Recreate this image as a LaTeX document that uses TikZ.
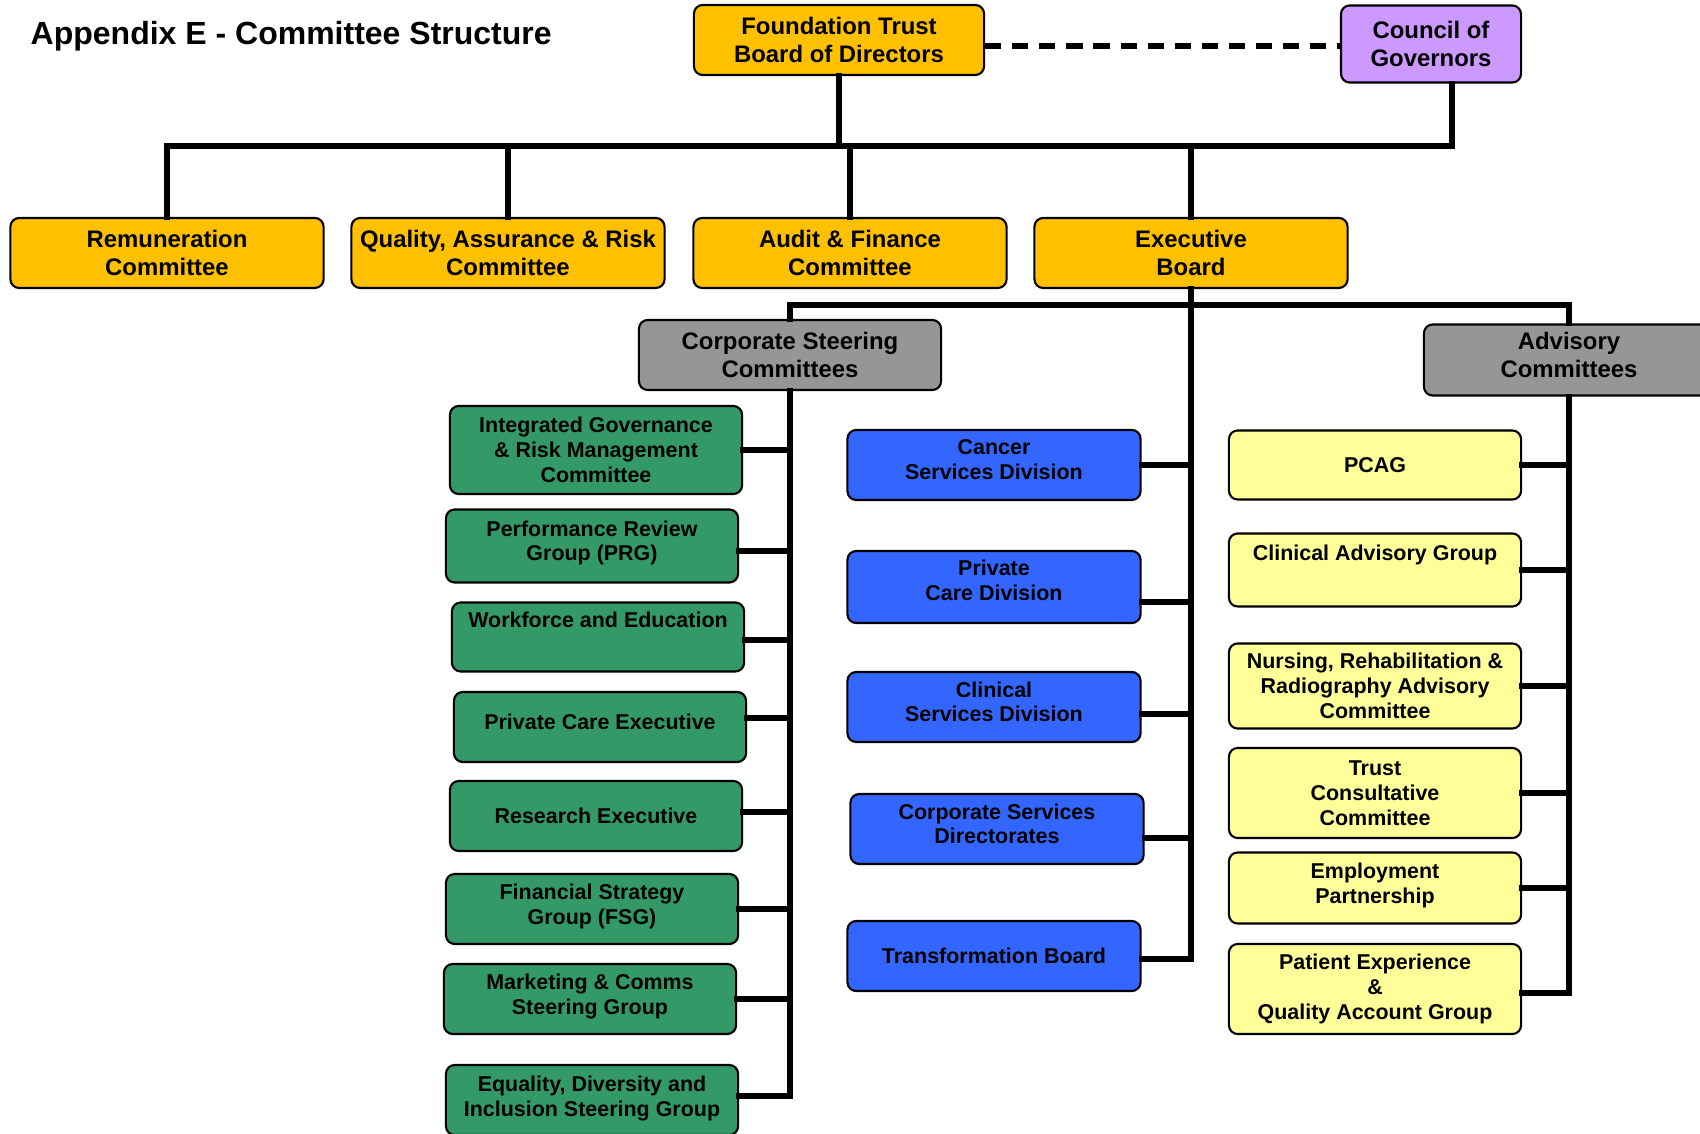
\documentclass[tikz,border=0pt]{standalone}
\usepackage{fontspec}
\setmainfont{Liberation Sans}
\definecolor{boardorange}{HTML}{FFC000}
\definecolor{govpurple}{HTML}{CC99FF}
\definecolor{headgrey}{HTML}{969696}
\definecolor{steergreen}{HTML}{339966}
\definecolor{divblue}{HTML}{3366FF}
\definecolor{advyellow}{HTML}{FFFF99}
\begin{document}
\begin{tikzpicture}[x=0.01cm,y=-0.01cm,
  box/.style={draw,rectangle,rounded corners=2.5pt,semithick,align=center,inner sep=0pt,font=\bfseries\fontsize{6.1}{7.1}\selectfont,minimum width=2.92cm,minimum height=0.7cm},
  topbox/.style={box,fill=boardorange,font=\bfseries\fontsize{6.8}{8}\selectfont,minimum width=3.13cm},
  headbox/.style={topbox,fill=headgrey},
  greenbox/.style={box,fill=steergreen},
  bluebox/.style={box,fill=divblue,minimum width=2.93cm},
  yellowbox/.style={box,fill=advyellow},
  link/.style={line width=1.7pt,line cap=rect}]
\useasboundingbox (0,0) rectangle (1700,1134);

\node[anchor=base west,inner sep=0pt,font=\bfseries\fontsize{9.1}{11}\selectfont] (title) at (30,45) {Appendix E - Committee Structure};

\node[topbox,minimum width=2.9cm] (fb) at (839,40) {Foundation Trust\\Board of Directors};
\node[topbox,fill=govpurple,minimum width=1.8cm,minimum height=0.77cm] (cg) at (1431,44) {Council of\\Governors};
\node[topbox] (rc) at (167,253) {Remuneration\\Committee};
\node[topbox] (qa) at (508,253) {Quality, Assurance \& Risk\\Committee};
\node[topbox] (af) at (850,253) {Audit \& Finance\\Committee};
\node[topbox] (eb) at (1191,253) {Executive\\Board};
\node[headbox,minimum width=3.02cm] (cs) at (790,355) {Corporate Steering\\Committees};
\node[headbox,minimum width=2.9cm,minimum height=0.71cm] (ac) at (1569,360) {Advisory\\Committees\\[-5pt]~};

\node[greenbox,minimum height=0.88cm] (g1) at (596,450) {Integrated Governance\\\& Risk Management\\Committee};
\node[greenbox,minimum height=0.73cm] (g2) at (592,546) {Performance Review\\Group (PRG)\\[-4.1pt]~};
\node[greenbox,minimum height=0.69cm] (g3) at (598,637) {Workforce and Education\\[2.5pt]~};
\node[greenbox] (g4) at (600,727) {Private Care Executive\\[-4.1pt]~};
\node[greenbox] (g5) at (596,816) {Research Executive};
\node[greenbox] (g6) at (592,909) {Financial Strategy\\Group (FSG)\\[-4.6pt]~};
\node[greenbox] (g7) at (590,999) {Marketing \& Comms\\Steering Group\\[-4.6pt]~};
\node[greenbox] (g8) at (592,1100) {Equality, Diversity and\\Inclusion Steering Group\\[-5pt]~};

\node[bluebox] (b1) at (994,465) {Cancer\\Services Division\\[-4.1pt]~};
\node[bluebox,minimum height=0.72cm] (b2) at (994,587) {Private\\Care Division\\[-3.5pt]~};
\node[bluebox] (b3) at (994,707) {Clinical\\Services Division\\[-4.1pt]~};
\node[bluebox] (b4) at (997,829) {Corporate Services\\Directorates\\[-4.1pt]~};
\node[bluebox] (b5) at (994,956) {Transformation Board};

\node[yellowbox,minimum height=0.69cm] (y1) at (1375,465) {PCAG};
\node[yellowbox,minimum height=0.73cm] (y2) at (1375,570) {Clinical Advisory Group\\[2.5pt]~};
\node[yellowbox,minimum height=0.85cm] (y3) at (1375,686) {Nursing, Rehabilitation \&\\Radiography Advisory\\Committee};
\node[yellowbox,minimum height=0.9cm] (y4) at (1375,793) {Trust\\Consultative\\Committee};
\node[yellowbox,minimum height=0.71cm] (y5) at (1375,888) {Employment\\Partnership\\[-4.6pt]~};
\node[yellowbox,minimum height=0.9cm] (y6) at (1375,989) {Patient Experience\\\&\\Quality Account Group};

\coordinate (bus) at (839,146);
\coordinate (split) at (1191,305);
\draw[link] (fb.south) -- (bus);
\draw[link] (rc.north) |- (bus) -| ([xshift=0.21cm]cg.south);
\foreach \n in {qa,af,eb} \draw[link] (\n.north) -- (\n.north |- bus);
\draw[link,line cap=butt,dash pattern=on 4.6pt off 3.1pt] ([yshift=-0.06cm]fb.east) -- ([yshift=-0.06cm]fb.east -| cg.west);
\draw[link] (cs.north) |- (split) -| (ac.north);
\draw[link] (eb.south) |- ([yshift=-0.03cm]b5.east);
\draw[link] (cs.south) |- ([yshift=0.04cm]g8.east);
\draw[link] (ac.south) |- ([yshift=-0.04cm]y6.east);
\foreach \n/\s in {1/0cm,2/-0.05cm,3/-0.03cm,4/0.09cm,5/0.04cm,6/0cm,7/0cm}
  \draw[link] ([yshift=\s]g\n.east) -- ([yshift=\s]g\n.east -| cs.south);
\foreach \n/\s in {1/0cm,2/-0.15cm,3/-0.07cm,4/-0.09cm}
  \draw[link] ([yshift=\s]b\n.east) -- ([yshift=\s]b\n.east -| eb.south);
\foreach \n in {1,...,5} \draw[link] (y\n.east) -- (y\n.east -| ac.south);
\end{tikzpicture}
\end{document}
